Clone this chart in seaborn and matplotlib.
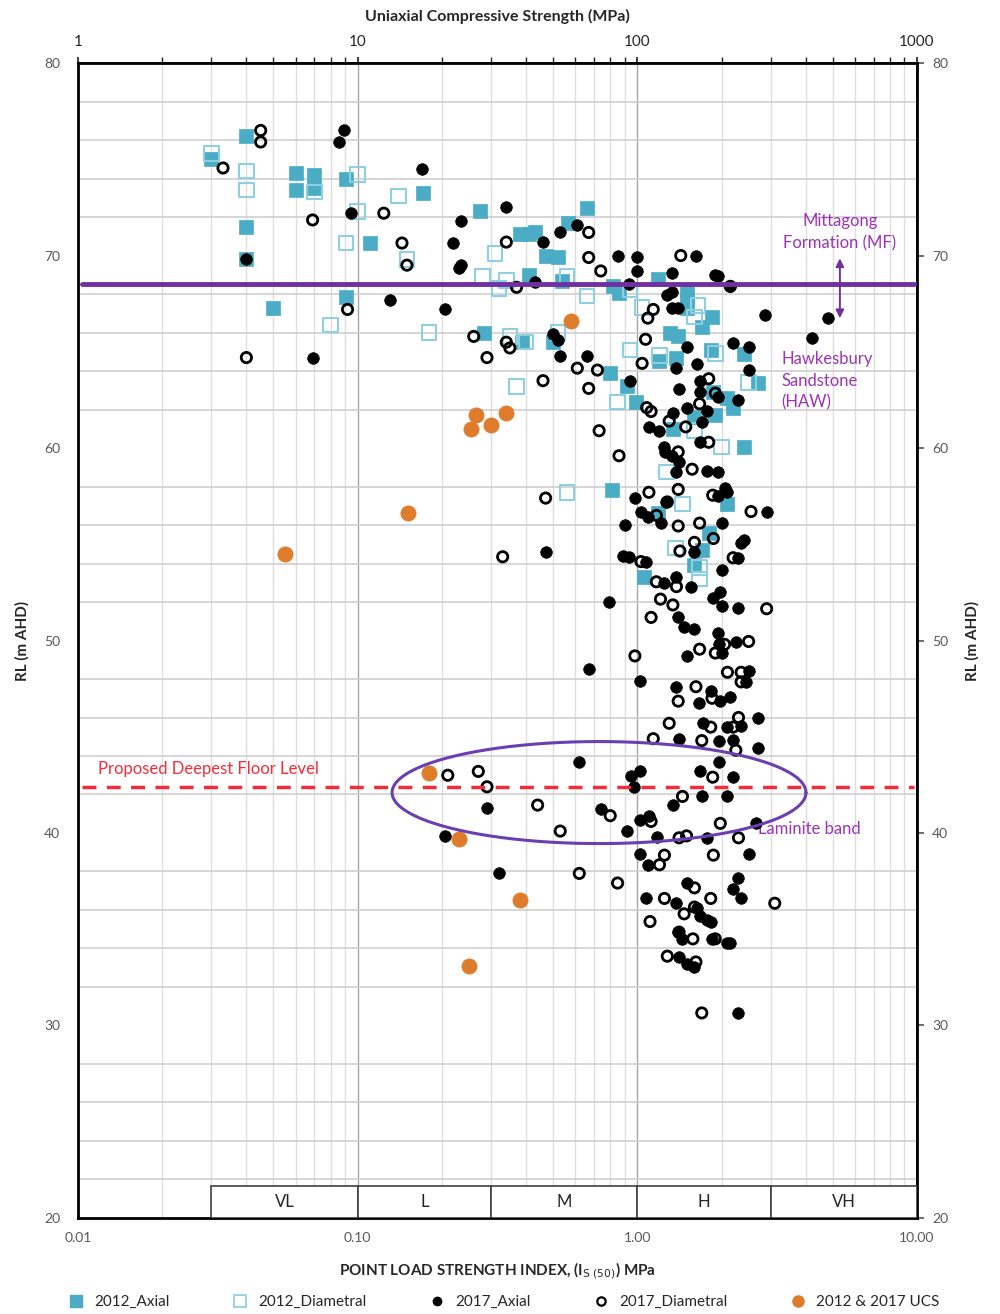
import numpy as np
import pandas as pd
import matplotlib
matplotlib.use("Agg")
import matplotlib.pyplot as plt
import seaborn as sns
from matplotlib.lines import Line2D
from matplotlib.patches import Rectangle

# ------------------------------------------------------------
# Data (Is50 in MPa, RL in m AHD)
# ------------------------------------------------------------
axial_2012_x = [0.03, 0.04, 0.04, 0.04, 0.05, 0.06, 0.06, 0.07, 0.07, 0.091, 0.091, 0.111,
                0.171, 0.273, 0.283, 0.38, 0.41, 0.43, 0.41, 0.47, 0.52, 0.54, 0.565, 0.66,
                0.82, 0.86, 1.19, 1.5, 1.5, 1.5, 1.85, 1.7, 0.387, 0.5, 1.31, 1.4, 1.83, 2.4,
                1.2, 1.38, 0.8, 0.92, 2.7, 0.99, 1.86, 2.1, 2.2, 1.9, 1.6, 1.34, 2.4, 0.81,
                2.1, 1.19, 1.8, 1.7, 1.6, 1.06]
axial_2012_y = [75.0, 76.2, 71.5, 69.8, 67.3, 74.3, 73.4, 74.2, 73.5, 74.0, 67.85, 70.65,
                73.25, 72.3, 66.0, 71.1, 71.1, 71.2, 69.0, 70.0, 69.9, 68.7, 71.7, 72.45,
                68.4, 68.05, 68.8, 68.2, 67.7, 67.3, 66.8, 66.3, 65.5, 65.5, 66.0, 65.8, 65.1, 64.9,
                64.5, 64.7, 63.9, 63.2, 63.4, 62.4, 62.9, 62.6, 62.1, 61.7, 61.6, 61.0, 60.05, 57.8,
                57.1, 56.6, 55.6, 54.7, 53.9, 53.3]

diam_2012_x = [0.03, 0.04, 0.04, 0.07, 0.1, 0.1, 0.14, 0.091, 0.15, 0.31, 0.28, 0.32, 0.08,
               0.18, 0.34, 0.56, 0.66, 0.94, 1.04, 1.65, 1.6, 1.9, 0.94, 0.35, 0.4, 0.52, 0.37,
               1.2, 0.85, 2.0, 2.5, 1.6, 0.56, 1.27, 1.45, 1.37, 1.67, 1.67]
diam_2012_y = [75.3, 74.4, 73.4, 73.3, 74.2, 72.3, 73.1, 70.65, 69.8, 70.1, 68.9, 68.3, 66.4,
               66.0, 68.7, 68.9, 67.9, 68.2, 67.3, 67.4, 66.8, 64.9, 65.1, 65.8, 65.5, 66.0, 63.2,
               64.8, 62.4, 60.05, 63.4, 60.9, 57.7, 58.75, 57.1, 54.8, 53.8, 53.2]

axial_2017_x = [0.089, 0.086, 0.17, 0.095, 0.235, 0.22, 0.23, 0.235, 0.04, 0.13, 0.205, 0.069,
                0.34, 0.46, 0.53, 0.61, 0.85, 1.0, 1.0, 1.62, 1.33, 1.9, 1.95, 0.93, 0.43, 1.33,
                1.28, 1.33, 1.4, 2.85, 4.8, 4.2, 0.5, 0.52, 0.53, 0.66, 1.5, 2.2, 2.5, 1.64, 1.37,
                2.5, 0.94, 1.67, 1.41, 1.67, 1.95, 2.3, 1.5, 1.34, 1.78, 1.7, 1.1, 1.2, 1.25, 1.67,
                1.33, 2.15, 1.26, 1.41, 1.37, 1.78, 1.95, 2.05, 2.1, 1.94, 0.98, 1.27, 1.03, 1.09,
                1.22, 0.9, 2.0, 2.9, 2.4, 2.35, 1.6, 2.3, 0.89, 0.93, 1.07, 0.47, 2.0, 1.38, 1.25,
                1.55, 0.79, 1.87, 1.98, 2.0, 2.3, 1.4, 1.47, 1.6, 1.95, 1.96, 2.0, 2.25, 1.5, 0.67,
                1.02, 2.5, 2.45, 1.38, 1.83, 1.98, 2.15, 1.66, 2.7, 1.72, 2.1, 2.35, 1.41, 1.96,
                2.2, 2.7, 0.62, 1.02, 0.95, 0.97, 1.67, 1.96, 2.2, 2.1, 1.7, 1.34, 0.74, 1.02, 1.1,
                0.92, 1.18, 1.78, 2.65, 1.02, 1.09, 2.5, 1.5, 2.3, 2.2, 2.35, 1.07, 1.37, 1.63,
                1.68, 1.78, 1.83, 1.4, 1.45, 1.85, 2.1, 2.15, 1.41, 1.5, 1.6, 2.3, 0.205, 0.29, 0.32]
axial_2017_y = [76.5, 75.9, 74.5, 72.2, 71.8, 70.65, 69.35, 69.5, 69.8, 67.7, 67.2, 64.7,
                72.5, 70.7, 71.2, 71.6, 70.0, 69.9, 69.2, 70.0, 69.1, 69.0, 68.95, 68.5, 68.6, 68.1,
                67.95, 67.3, 67.3, 66.9, 66.75, 65.7, 65.9, 65.6, 64.8, 64.8, 65.25, 65.45, 65.25, 64.35, 64.15,
                64.05, 63.5, 63.5, 63.05, 62.9, 62.65, 62.5, 62.1, 61.8, 61.9, 61.35, 61.1, 60.9, 60.05, 60.3,
                59.6, 68.4, 59.8, 59.3, 58.75, 58.8, 58.75, 57.9, 57.7, 57.5, 57.4, 57.2, 56.7, 56.4,
                56.1, 56.0, 56.1, 56.7, 55.2, 55.05, 54.6, 54.3, 54.4, 54.35, 54.1, 54.6, 53.65, 53.3, 53.0,
                52.8, 52.0, 52.2, 52.5, 51.8, 51.7, 51.2, 50.7, 50.6, 50.4, 49.8, 49.35, 49.9, 49.2, 48.5,
                47.9, 48.4, 47.85, 47.6, 47.4, 46.85, 47.05, 46.75, 46.0, 45.7, 45.5, 45.55, 44.9, 44.8,
                44.85, 44.4, 43.7, 43.2, 42.95, 42.4, 43.2, 43.7, 42.9, 41.9, 41.9, 41.45, 41.25, 40.7, 40.9,
                40.1, 39.8, 39.75, 40.5, 38.9, 38.35, 38.9, 37.4, 37.65, 37.1, 36.6, 36.6, 36.35, 36.1,
                35.7, 35.5, 35.4, 34.85, 34.5, 34.5, 34.3, 34.3, 33.55, 33.2, 33.05, 30.65, 39.85, 41.3, 37.9]

diam_2017_x = [0.045, 0.045, 0.033, 0.069, 0.124, 0.144, 0.15, 0.092, 0.26, 0.04, 0.29,
               0.34, 0.67, 0.67, 0.74, 1.43, 0.37, 2.15, 1.14, 1.09, 1.07, 0.34, 0.35, 0.46, 0.67,
               0.61, 0.72, 1.04, 1.8, 1.08, 1.12, 1.49, 1.67, 1.9, 1.3, 0.73, 1.8, 0.86,
               1.4, 1.57, 0.47, 1.1, 1.4, 1.28, 1.86, 2.55, 1.17, 1.4, 1.67, 1.87, 1.6, 1.42, 2.2,
               1.03, 0.33, 1.17, 1.38, 1.21, 1.34, 2.9, 1.12, 0.98, 1.67, 1.9, 2.05, 2.5, 2.1, 2.35,
               2.35, 1.62, 1.4, 1.85, 2.3, 1.3, 1.83, 2.2, 1.14, 1.7, 2.25,
               1.86, 1.45, 0.8, 1.12, 1.98, 1.41, 1.5, 2.3, 0.53, 1.87, 1.25, 1.2, 0.62, 0.85, 1.6,
               1.83, 1.25, 3.1, 1.47, 1.6, 1.11, 1.41, 1.58, 1.9, 1.28, 1.62, 1.7,
               0.21, 0.27, 0.29, 0.44]
diam_2017_y = [76.5, 75.9, 74.55, 71.85, 72.2, 70.65, 69.5, 67.2, 65.8, 64.7, 64.7,
               70.7, 71.2, 69.9, 69.2, 70.0, 68.35, 68.4, 67.2, 66.75, 65.65, 65.5, 65.2, 63.5, 63.1,
               64.15, 64.05, 64.4, 63.6, 62.1, 61.9, 61.1, 62.3, 62.85, 61.4, 60.9, 60.3, 59.6,
               59.8, 58.9, 57.4, 57.7, 57.85, 57.2, 57.55, 56.7, 56.5, 55.95, 56.1, 55.3, 55.1, 54.65, 54.3,
               54.1, 54.35, 53.05, 52.8, 52.15, 51.85, 51.65, 51.2, 49.2, 49.55, 49.35, 49.8, 49.95, 48.35, 48.35,
               47.85, 47.6, 46.85, 47.0, 46.0, 45.7, 45.5, 45.5, 44.9, 44.8, 44.3,
               42.9, 41.9, 40.9, 40.6, 40.5, 39.75, 39.85, 39.75, 40.1, 38.85, 38.85, 38.35, 37.9, 37.4, 37.15,
               36.6, 36.6, 36.35, 35.8, 36.15, 35.4, 34.85, 34.5, 34.5, 33.6, 33.3, 30.65,
               43.0, 43.2, 42.4, 41.45]

ucs_x = [0.055, 0.151, 0.265, 0.255, 0.30, 0.34, 0.58, 0.18, 0.23, 0.38, 0.25]
ucs_y = [54.5, 56.6, 61.7, 61.0, 61.2, 61.8, 66.6, 43.1, 39.7, 36.5, 33.1]

# strength classes along the bottom
class_labels = ["VL", "L", "M", "H", "VH"]
class_edges = [0.03, 0.1, 0.3, 1.0, 3.0, 10.0]

mf_level = 68.5          # Mittagong / Hawkesbury boundary
floor_level = 42.4       # proposed deepest floor level

TEAL = "#4bacc6"
ORANGE = "#de7c2c"
PURPLE = "#7030a0"
LABEL_PURPLE = "#9a34b4"
RED = "#f22d3a"
GREY_TXT = "#595959"

sns.set_theme(style="white")
plt.rcParams["font.family"] = ["Lato", "DejaVu Sans"]

fig = plt.figure(figsize=(10, 13.14), dpi=100)
ax = fig.add_axes([0.078, 0.0731, 0.839, 0.8789])

# grid
ax.set_xscale("log")
ax.set_xlim(0.01, 10)
ax.set_ylim(20, 80)
ax.set_yticks(np.arange(20, 81, 10))
ax.set_yticks(np.arange(20, 81, 2), minor=True)
ax.grid(True, which="major", axis="x", color="#a6a6a6", lw=1.0)
ax.grid(True, which="minor", axis="x", color="#dddddd", lw=1.0)
ax.grid(True, which="minor", axis="y", color="#cfcfcf", lw=1.2)
ax.set_axisbelow(True)

# data
sns.scatterplot(x=axial_2012_x, y=axial_2012_y, ax=ax, marker="s", s=110,
                color=TEAL, edgecolor=TEAL, linewidth=0.5, zorder=3)
sns.scatterplot(x=diam_2012_x, y=diam_2012_y, ax=ax, marker="s", s=110,
                facecolors="none", edgecolor="#8fd0e0", linewidth=1.5, zorder=3)
sns.scatterplot(x=axial_2017_x, y=axial_2017_y, ax=ax, marker="o", s=70,
                color="black", edgecolor="black", linewidth=0.5, zorder=4)
sns.scatterplot(x=diam_2017_x, y=diam_2017_y, ax=ax, marker="o", s=55,
                facecolors="none", edgecolor="black", linewidth=2.0, zorder=4)
sns.scatterplot(x=ucs_x, y=ucs_y, ax=ax, marker="o", s=120,
                color=ORANGE, edgecolor=ORANGE, linewidth=0.5, zorder=4)

# boundary lines
ax.axhline(mf_level, xmin=0.005, xmax=0.997, color=PURPLE, lw=3.5, zorder=5)
ax.axhline(floor_level, xmin=0.005, xmax=0.997, color=RED, lw=2.5, ls=(0, (4, 3)), zorder=5)

# laminite band ellipse (drawn in log-x space)
t = np.linspace(0, 2 * np.pi, 300)
ex = 10 ** (-0.137 + 0.74 * np.cos(t))
ey = 42.1 + 2.65 * np.sin(t)
ax.plot(ex, ey, color="#6b3fb2", lw=2.2, zorder=6)

# strength class boxes
for lab, lo, hi in zip(class_labels, class_edges[:-1], class_edges[1:]):
    ax.add_patch(Rectangle((lo, 20), hi - lo, 1.66, facecolor="white",
                           edgecolor="#404040", lw=1.2, zorder=7))
    ax.text(np.sqrt(lo * hi), 20.85, lab, ha="center", va="center",
            fontsize=12, color="#262626", zorder=8)

# annotations
ax.text(5.3, 71.2, "Mittagong\nFormation (MF)", ha="center", va="center",
        fontsize=12, color=LABEL_PURPLE, linespacing=1.45)
ax.annotate("", xy=(5.3, 66.6), xytext=(5.3, 70.0),
            arrowprops=dict(arrowstyle="<|-|>", color=PURPLE, lw=1.4,
                            mutation_scale=12))
ax.text(3.28, 63.5, "Hawkesbury\nSandstone\n(HAW)", ha="left", va="center",
        fontsize=12, color=LABEL_PURPLE, linespacing=1.45)
ax.text(2.7, 40.2, "Laminite band", ha="left", va="center",
        fontsize=12, color=LABEL_PURPLE)
ax.text(0.0118, 43.3, "Proposed Deepest Floor Level", ha="left", va="center",
        fontsize=12, color=RED)

# axes styling
for sp in ax.spines.values():
    sp.set_color("black")
    sp.set_linewidth(2.0)
ax.set_xticks([0.01, 0.1, 1, 10])
ax.set_xticklabels(["0.01", "0.10", "1.00", "10.00"])
ax.tick_params(axis="both", which="major", labelsize=10, colors=GREY_TXT,
               length=5, direction="out", pad=8)
ax.tick_params(axis="both", which="minor", length=0)
ax.tick_params(axis="x", which="major", length=4, direction="inout")
ax.set_xlabel("POINT LOAD STRENGTH INDEX, (I$_{\\mathrm{S\\ (50)}}$) MPa",
              fontsize=11, fontweight="bold", labelpad=12)
ax.set_ylabel("RL (m AHD)", fontsize=11, fontweight="bold", labelpad=10)

# right axis
ax_r = ax.secondary_yaxis("right")
ax_r.set_yticks(np.arange(20, 81, 10))
ax_r.tick_params(labelsize=10, colors=GREY_TXT, length=5, pad=6)
ax_r.set_ylabel("RL (m AHD)", fontsize=11, fontweight="bold", labelpad=12)

# top axis: UCS = 100 x Is50 (MPa)
ax_t = ax.secondary_xaxis("top", functions=(lambda v: v * 100, lambda v: v / 100))
ax_t.set_xticks([1, 10, 100, 1000])
ax_t.set_xticklabels(["1", "10", "100", "1000"])
ax_t.tick_params(labelsize=11, colors="#262626", length=4, pad=6)
ax_t.set_xlabel("Uniaxial Compressive Strength (MPa)", fontsize=11.5,
                fontweight="bold", labelpad=10)

# legend
handles = [
    Line2D([], [], ls="none", marker="s", ms=9, mfc=TEAL, mec=TEAL),
    Line2D([], [], ls="none", marker="s", ms=9, mfc="none", mec="#8fd0e0", mew=1.3),
    Line2D([], [], ls="none", marker="o", ms=6, mfc="black", mec="black"),
    Line2D([], [], ls="none", marker="o", ms=6, mfc="none", mec="black", mew=1.6),
    Line2D([], [], ls="none", marker="o", ms=8, mfc=ORANGE, mec=ORANGE),
]
labels = ["2012_Axial", "2012_Diametral", "2017_Axial", "2017_Diametral", "2012 & 2017 UCS"]
fig.legend(handles, labels, loc="center", bbox_to_anchor=(0.5, 0.009), ncol=5,
           frameon=False, fontsize=11, handletextpad=0.2, columnspacing=3.6,
           labelcolor="#262626")

fig.savefig("out.png", dpi=100, facecolor="white")
